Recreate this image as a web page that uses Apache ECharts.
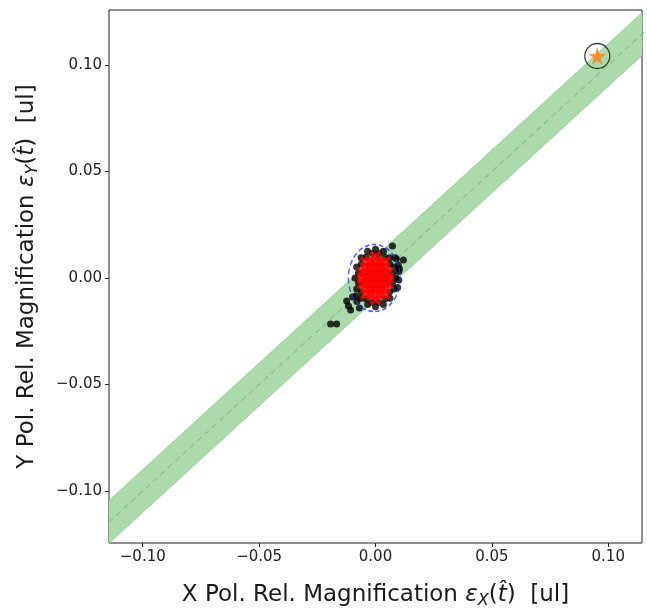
<!DOCTYPE html>
<html><head><meta charset="utf-8">
<script src="https://cdn.jsdelivr.net/npm/echarts@6/dist/echarts.min.js"></script>
<style>html,body{margin:0;padding:0;background:#fff}#c{width:647px;height:608px}</style>
</head><body><div id="c"></div>
<script>
// ---- data ----
const xTicks = [-0.10, -0.05, 0.00, 0.05, 0.10];
const yTicks = [-0.10, -0.05, 0.00, 0.05, 0.10];
const xRange = [-0.1145, 0.1145];
const yRange = [-0.1244, 0.1258];
const bandX = [-0.14, 0.14];
const bandLower = [-0.15, 0.13];
const bandUpper = [-0.13, 0.15];
const bandCenter = [-0.14, 0.14];
const blackPts = [
  [0.0088, 0], [0.0081, 0.0052], [0.0062, 0.0095], [0.0034, 0.0125], [0, 0.0135], [-0.0034, 0.0125],
  [-0.0062, 0.0095], [-0.0081, 0.0052], [-0.0088, 0], [-0.0081, -0.0052], [-0.0062, -0.0095],
  [-0.0034, -0.0125], [0, -0.0135], [0.0034, -0.0125], [0.0062, -0.0095], [0.0081, -0.0052],
  [0.0073, 0.0023], [0.0061, 0.0065], [0.0041, 0.0097], [0.0014, 0.0115], [-0.0014, 0.0115],
  [-0.0041, 0.0097], [-0.0061, 0.0065], [-0.0073, 0.0023], [-0.0073, -0.0023], [-0.0061, -0.0065],
  [-0.0041, -0.0097], [-0.0014, -0.0115], [0.0014, -0.0115], [0.0041, -0.0097], [0.0061, -0.0065],
  [0.0073, -0.0023],
  [0.0100, 0.0030], [0.0100, -0.0010], [0.0098, 0.0060], [0.0095, -0.0045], [-0.0085, -0.0085],
  [0.0085, 0.0095], [-0.0080, -0.0110],
  [-0.0193, -0.0216], [-0.0167, -0.0216], [-0.0124, -0.0108], [-0.0116, -0.0131],
  [-0.0107, -0.0150], [-0.0099, -0.0089], [-0.0069, -0.0141], [0.0073, 0.0150],
  [0.0090, 0.0089], [0.0120, 0.0085], [0.0103, 0.0042]
];
const redPts = [
  [0, -0.010], [0, -0.0075], [0, -0.005], [0, -0.0025], [0, 0], [0, 0.0025], [0, 0.005], [0, 0.0075], [0, 0.010],
  [-0.002, -0.0075], [-0.002, -0.005], [-0.002, -0.0025], [-0.002, 0], [-0.002, 0.0025], [-0.002, 0.005], [-0.002, 0.0075],
  [0.002, -0.0075], [0.002, -0.005], [0.002, -0.0025], [0.002, 0], [0.002, 0.0025], [0.002, 0.005], [0.002, 0.0075],
  [-0.004, -0.0075], [-0.004, -0.005], [-0.004, -0.0025], [-0.004, 0], [-0.004, 0.0025], [-0.004, 0.005], [-0.004, 0.0075],
  [0.004, -0.0075], [0.004, -0.005], [0.004, -0.0025], [0.004, 0], [0.004, 0.0025], [0.004, 0.005], [0.004, 0.0075],
  [-0.0055, -0.0025], [-0.0055, 0], [-0.0055, 0.0025],
  [0.0055, -0.0025], [0.0055, 0], [0.0055, 0.0025]
];
const ellipseCenter = [[-0.0005, 0.0000]];
const starPt = [[0.0953, 0.1042]];

// ---- chart ----
const fmt = v => (v < 0 ? '\u2212' : '') + Math.abs(v).toFixed(2);
const FONT = 'DejaVu Sans';
const NAME_SIZE = 23;
const TXT = '#1a1a1a';
const rich = {
  n: { fontFamily: FONT, fontSize: NAME_SIZE, color: TXT },
  i: { fontFamily: FONT, fontStyle: 'italic', fontSize: NAME_SIZE, color: TXT },
  s: { fontFamily: FONT, fontStyle: 'italic', fontSize: 16, color: TXT, padding: [12, 0, 0, 0] }
};
const bandPoly = bandX.map((x, k) => [x, bandLower[k], bandUpper[k]]);
const starPath = 'path://M50,0 L61.2,34.5 L97.6,34.5 L68.2,55.9 L79.4,90.5 L50,69.1 L20.6,90.5 L31.8,55.9 L2.4,34.5 L38.8,34.5 Z';
const crossPath = 'path://M0,2 L2,0 L5,3 L8,0 L10,2 L7,5 L10,8 L8,10 L5,7 L2,10 L0,8 L3,5 Z';

const chart = echarts.init(document.getElementById('c'), null, { renderer: 'canvas' });
chart.setOption({
  animation: false,
  grid: { left: 109, top: 10, width: 533, height: 533, containLabel: false, outerBoundsMode: 'none',
          show: true, borderColor: '#222', borderWidth: 1, backgroundColor: 'transparent' },
  xAxis: {
    type: 'value', min: xRange[0], max: xRange[1],
    splitLine: { show: false }, axisLine: { show: false, onZero: false },
    axisTick: { show: true, customValues: xTicks, length: 4, lineStyle: { color: '#222' } },
    axisLabel: { customValues: xTicks, formatter: fmt, fontFamily: FONT, fontSize: 15, color: '#222', margin: 7 },
    name: '{n|X Pol. Rel. Magnification }{i|ε}{s|X}{n|(}{i|t̂}{n|)  [ul]}',
    nameLocation: 'middle', nameGap: 38,
    nameTextStyle: { fontFamily: FONT, fontSize: NAME_SIZE, color: TXT, rich: rich }
  },
  yAxis: {
    type: 'value', min: yRange[0], max: yRange[1],
    splitLine: { show: false }, axisLine: { show: false, onZero: false },
    axisTick: { show: true, customValues: yTicks, length: 4, lineStyle: { color: '#222' } },
    axisLabel: { customValues: yTicks, formatter: fmt, fontFamily: FONT, fontSize: 15, color: '#222', margin: 7 },
    name: '{n|Y Pol. Rel. Magnification }{i|ε}{s|Y}{n|(}{i|t̂}{n|)  [ul]}',
    nameLocation: 'middle', nameGap: 68, nameRotate: 90,
    nameTextStyle: { fontFamily: FONT, fontSize: NAME_SIZE, color: TXT, rich: rich }
  },
  series: [
    {
      type: 'custom', clip: true, z: 1,
      data: [0],
      renderItem: function (params, api) {
        const pts = [];
        bandPoly.forEach(p => pts.push(api.coord([p[0], p[1]])));
        bandPoly.slice().reverse().forEach(p => pts.push(api.coord([p[0], p[2]])));
        return { type: 'polygon', shape: { points: pts }, style: { fill: '#acdaac', stroke: '#98d098', lineWidth: 1 } };
      }
    },
    {
      type: 'line', z: 2, symbol: 'none', silent: true,
      data: bandX.map((x, k) => [x, bandCenter[k]]),
      lineStyle: { color: '#8cc78c', width: 1.5, type: [6, 4] }
    },
    {
      type: 'scatter', z: 3, symbol: 'circle', symbolSize: 7,
      data: blackPts, itemStyle: { color: '#000' }
    },
    {
      type: 'scatter', z: 4, symbol: crossPath, symbolSize: 12,
      data: redPts, itemStyle: { color: '#ff0000' }
    },
    {
      type: 'scatter', z: 5, symbol: 'circle', symbolSize: [52, 67],
      data: ellipseCenter,
      itemStyle: { color: 'transparent', borderColor: '#2233ee', borderWidth: 1.5, borderType: [5, 3] }
    },
    {
      type: 'scatter', z: 6, symbol: starPath, symbolSize: 18,
      data: starPt, itemStyle: { color: '#ff7f0e' }
    },
    {
      type: 'scatter', z: 7, symbol: 'circle', symbolSize: 25,
      data: starPt, itemStyle: { color: 'transparent', borderColor: '#111', borderWidth: 1.3 }
    }
  ]
});
</script>
</body></html>
